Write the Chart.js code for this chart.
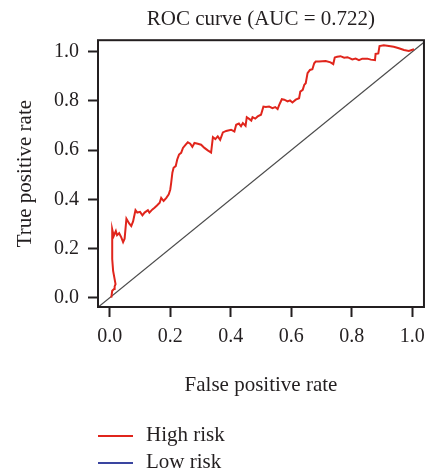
<!DOCTYPE html>
<html>
<head>
<meta charset="utf-8">
<title>ROC curve</title>
<script src="https://cdn.jsdelivr.net/npm/chart.js@4"></script>
<style>
  body { margin: 0; background: #fff; }
  #roc { display: block; }
</style>
</head>
<body>
<canvas id="roc" width="433" height="476"></canvas>
<script>
// ROC curve points (false positive rate / true positive rate)
var fpr = [0.005, 0.008, 0.014, 0.016, 0.019, 0.011, 0.008, 0.008, 0.013, 0.020,
  0.024, 0.031, 0.038, 0.044, 0.049, 0.055, 0.064, 0.071, 0.077, 0.085,
  0.091, 0.100, 0.108, 0.115, 0.126, 0.131, 0.141, 0.148, 0.156, 0.165,
  0.170, 0.178, 0.187, 0.195, 0.200, 0.203, 0.207, 0.211, 0.218, 0.223,
  0.229, 0.236, 0.242, 0.251, 0.258, 0.266, 0.273, 0.280, 0.291, 0.302,
  0.313, 0.324, 0.335, 0.341, 0.349, 0.357, 0.365, 0.374, 0.385, 0.401,
  0.412, 0.418, 0.427, 0.434, 0.440, 0.449, 0.453, 0.462, 0.468, 0.472,
  0.481, 0.489, 0.500, 0.508, 0.516, 0.527, 0.538, 0.547, 0.555, 0.560,
  0.569, 0.577, 0.588, 0.596, 0.604, 0.615, 0.626, 0.630, 0.638, 0.643,
  0.648, 0.654, 0.662, 0.670, 0.676, 0.681, 0.692, 0.714, 0.730, 0.739,
  0.744, 0.752, 0.763, 0.775, 0.786, 0.802, 0.813, 0.824, 0.835, 0.852,
  0.863, 0.877, 0.879, 0.888, 0.892, 0.906, 0.923, 0.939, 0.956, 0.973,
  0.989, 1.006];
var tpr = [0.000, 0.028, 0.035, 0.046, 0.055, 0.109, 0.157, 0.278, 0.251, 0.271,
  0.254, 0.262, 0.245, 0.226, 0.240, 0.321, 0.302, 0.291, 0.310, 0.356,
  0.346, 0.349, 0.335, 0.346, 0.356, 0.346, 0.359, 0.366, 0.375, 0.386,
  0.406, 0.393, 0.406, 0.420, 0.440, 0.467, 0.508, 0.528, 0.535, 0.562,
  0.582, 0.589, 0.609, 0.622, 0.632, 0.626, 0.613, 0.629, 0.626, 0.622,
  0.609, 0.599, 0.590, 0.653, 0.645, 0.656, 0.642, 0.672, 0.678, 0.683,
  0.676, 0.703, 0.708, 0.697, 0.710, 0.699, 0.734, 0.726, 0.720, 0.734,
  0.728, 0.737, 0.744, 0.777, 0.775, 0.777, 0.771, 0.775, 0.767, 0.783,
  0.807, 0.805, 0.798, 0.802, 0.794, 0.805, 0.811, 0.838, 0.845, 0.865,
  0.872, 0.913, 0.926, 0.929, 0.953, 0.960, 0.960, 0.962, 0.957, 0.950,
  0.977, 0.980, 0.982, 0.976, 0.978, 0.969, 0.972, 0.966, 0.972, 0.972,
  0.968, 0.966, 0.991, 0.993, 1.023, 1.026, 1.023, 1.020, 1.014, 1.007,
  1.003, 1.010];

// reference line y = x
var diagX = [-0.04, 1.04];
var diagY = [-0.04, 1.04];

var seriesNames = ["High risk", "Low risk"];
var seriesColors = ["#e0251c", "#3a45a0"];

var xTickVals = [0, 0.2, 0.4, 0.6, 0.8, 1.0];
var yTickVals = [0, 0.2, 0.4, 0.6, 0.8, 1.0];

var serif = "'Liberation Serif', 'Times New Roman', serif";
var ink = "#231f20";

var rocPoints = fpr.map(function(x, i){ return {x: x, y: tpr[i]}; });
var diagPoints = diagX.map(function(x, i){ return {x: x, y: diagY[i]}; });

// box round the plot area
var boxPlugin = {
  id: 'box',
  afterDatasetsDraw: function(chart){
    var a = chart.chartArea, c = chart.ctx;
    c.save();
    c.strokeStyle = ink;
    c.lineWidth = 2;
    c.strokeRect(a.left, a.top, a.right - a.left, a.bottom - a.top);
    c.restore();
  }
};

// stacked legend below the axis title
var legendPlugin = {
  id: 'stackLegend',
  afterDraw: function(chart){
    var c = chart.ctx;
    var items = chart.data.datasets.filter(function(d){ return d.inLegend; });
    c.save();
    c.font = "21px " + serif;
    c.textBaseline = "middle";
    items.forEach(function(d, i){
      var y = 436 + i * 27;
      c.strokeStyle = d.borderColor;
      c.lineWidth = 2;
      c.beginPath();
      c.moveTo(98, y);
      c.lineTo(133, y);
      c.stroke();
      c.fillStyle = ink;
      c.fillText(d.label, 146, y - 1);
    });
    c.restore();
  }
};

var ctx = document.getElementById('roc');
var rocChart = new Chart(ctx, {
  type: 'line',
  data: {
    datasets: [{
      label: seriesNames[0],
      inLegend: true,
      data: rocPoints,
      borderColor: seriesColors[0],
      borderWidth: 2,
      pointRadius: 0,
      tension: 0,
      fill: false
    }, {
      label: seriesNames[1],
      inLegend: true,
      data: [],
      borderColor: seriesColors[1],
      borderWidth: 2,
      pointRadius: 0
    }, {
      label: "",
      inLegend: false,
      data: diagPoints,
      borderColor: "#4a4a4a",
      borderWidth: 1.2,
      pointRadius: 0
    }]
  },
  options: {
    responsive: false,
    animation: false,
    layout: { padding: { left: 0, right: 8, top: 0, bottom: 69 } },
    plugins: {
      legend: { display: false },
      tooltip: { enabled: false },
      title: {
        display: true,
        text: 'ROC curve (AUC = 0.722)',
        fullSize: false,
        color: ink,
        font: { family: serif, size: 21, weight: 'normal' },
        padding: { top: 7, bottom: 8 }
      }
    },
    scales: {
      x: {
        type: 'linear',
        min: -0.039,
        max: 1.039,
        afterFit: function(s){ s.height = 100; },
        afterBuildTicks: function(s){ s.ticks = xTickVals.map(function(v){ return {value: v}; }); },
        ticks: {
          color: ink,
          padding: 8,
          font: { family: serif, size: 20 },
          callback: function(v){ return Number(v).toFixed(1); }
        },
        grid: { drawOnChartArea: false, drawTicks: true, tickLength: 10, tickColor: ink, tickWidth: 2 },
        border: { display: false },
        title: {
          display: true,
          text: 'False positive rate',
          color: ink,
          font: { family: serif, size: 21 },
          padding: { top: 0, bottom: 9 }
        }
      },
      y: {
        type: 'linear',
        min: -0.038,
        max: 1.047,
        afterFit: function(s){ s.width = 98; },
        afterBuildTicks: function(s){ s.ticks = yTickVals.map(function(v){ return {value: v}; }); },
        ticks: {
          color: ink,
          padding: 9,
          font: { family: serif, size: 20 },
          callback: function(v){ return Number(v).toFixed(1); }
        },
        grid: { drawOnChartArea: false, drawTicks: true, tickLength: 10, tickColor: ink, tickWidth: 2 },
        border: { display: false },
        title: {
          display: true,
          text: 'True positive rate',
          color: ink,
          font: { family: serif, size: 21 },
          padding: { top: 13, bottom: 0 }
        }
      }
    }
  },
  plugins: [boxPlugin, legendPlugin]
});
</script>
</body>
</html>
